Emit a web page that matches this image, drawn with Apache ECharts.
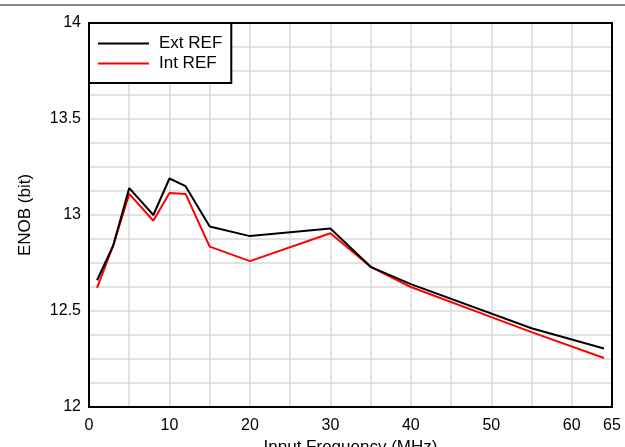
<!DOCTYPE html>
<html><head><meta charset="utf-8">
<script src="https://cdn.jsdelivr.net/npm/echarts@6/dist/echarts.min.js"></script>
<style>html,body{margin:0;padding:0;background:#fff}#c{width:625px;height:447px}</style>
</head><body><div id="c"></div>
<script>
const freqExt = [1, 3, 5, 8, 10, 12, 15, 20, 30, 35, 40, 55, 64];
const enobExt = [12.66, 12.84, 13.14, 13.00, 13.19, 13.15, 12.94, 12.89, 12.93, 12.73, 12.64, 12.41, 12.305];
const freqInt = [1, 3, 5, 8, 10, 12, 15, 20, 30, 35, 40, 55, 64];
const enobInt = [12.62, 12.84, 13.11, 12.97, 13.115, 13.11, 12.835, 12.76, 12.905, 12.73, 12.625, 12.39, 12.255];
const xTickLabels = [0, 10, 20, 30, 40, 50, 60, 65];
const yTickLabels = [12, 12.5, 13, 13.5, 14];

const font = 'Liberation Sans, Arial, sans-serif';
const lineIcon = 'path://M0,0H100V4H0Z';
const chart = echarts.init(document.getElementById('c'));
chart.setOption({
  animation: false,
  backgroundColor: '#fff',
  graphic: [{type:'rect', shape:{x:0,y:4,width:625,height:2}, style:{fill:'#888'}}],
  grid: {left: 89, right: 13, top: 23, bottom: 40, outerBoundsMode: 'none', containLabel: false,
         show: true, borderColor: '#000', borderWidth: 2, z: 5},
  legend: {
    left: 89, top: 23, orient: 'vertical', padding: [12, 9, 11, 9], itemGap: 3,
    backgroundColor: '#fff', borderColor: '#000', borderWidth: 2,
    itemWidth: 51, itemHeight: 14,
    textStyle: {fontFamily: font, fontSize: 17, color: '#000', padding: [0, 0, 0, 5]},
    data: [{name: 'Ext REF', icon: lineIcon}, {name: 'Int REF', icon: lineIcon}]
  },
  xAxis: {
    type: 'value', min: 0, max: 65, interval: 5,
    axisLine: {show: false}, axisTick: {show: false},
    splitLine: {show: true, lineStyle: {color: '#d9d9d9', width: 1.5}},
    axisLabel: {fontFamily: font, fontSize: 16, color: '#000', margin: 11, showMaxLabel: true,
      formatter: v => xTickLabels.includes(v) ? String(v) : ''},
    name: 'Input Frequency (MHz)', nameLocation: 'middle', nameGap: 32,
    nameTextStyle: {fontFamily: font, fontSize: 17, color: '#000', verticalAlign: 'top'}
  },
  yAxis: {
    type: 'value', min: 12, max: 14, interval: 0.125,
    axisLine: {show: false}, axisTick: {show: false},
    splitLine: {show: true, lineStyle: {color: '#d9d9d9', width: 1.5}},
    axisLabel: {fontFamily: font, fontSize: 16, color: '#000', margin: 8,
      formatter: v => yTickLabels.some(t => Math.abs(t - v) < 1e-6) ? String(v) : ''},
    name: 'ENOB (bit)', nameLocation: 'middle', nameGap: 55, nameRotate: 90,
    nameTextStyle: {fontFamily: font, fontSize: 17, color: '#000'}
  },
  series: [
    {name: 'Ext REF', type: 'line', symbol: 'none', data: freqExt.map((f, i) => [f, enobExt[i]]),
     lineStyle: {color: '#000', width: 2}, itemStyle: {color: '#000'}, z: 3},
    {name: 'Int REF', type: 'line', symbol: 'none', data: freqInt.map((f, i) => [f, enobInt[i]]),
     lineStyle: {color: '#ff0000', width: 2}, itemStyle: {color: '#ff0000'}, z: 2}
  ]
});
</script></body></html>
